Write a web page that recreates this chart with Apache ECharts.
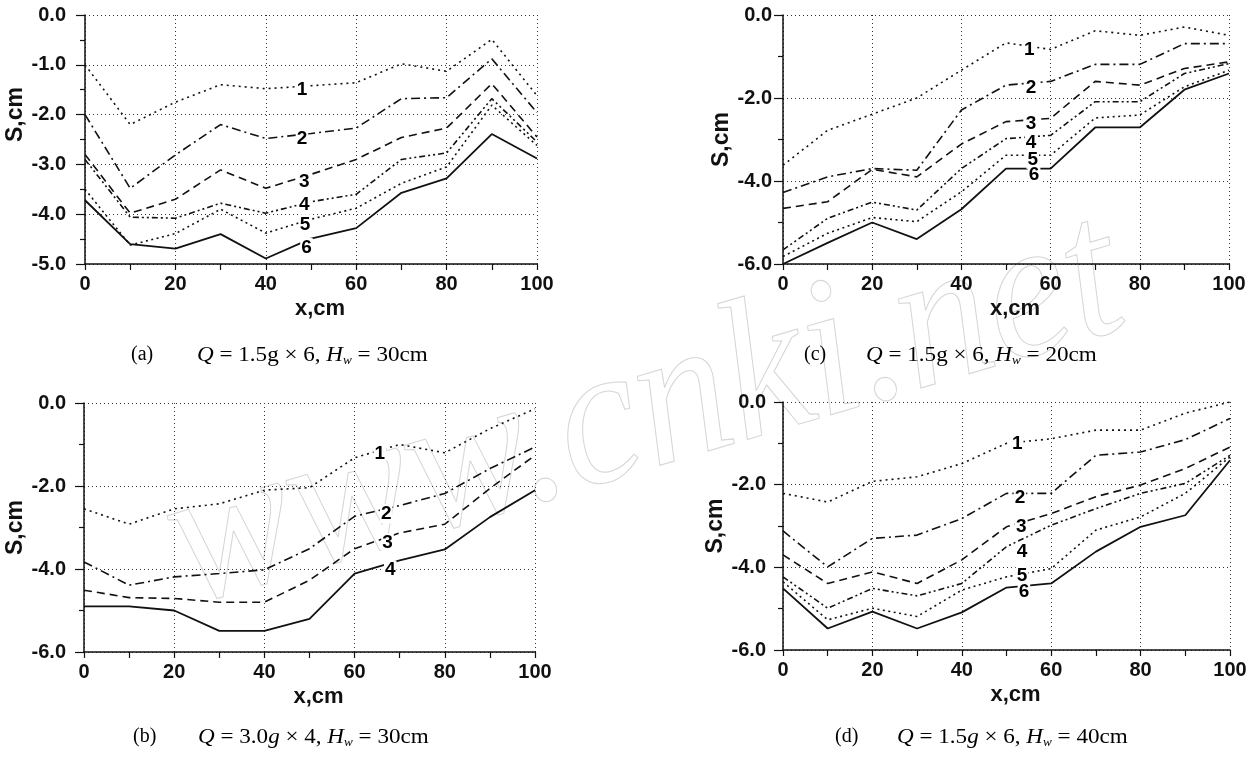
<!DOCTYPE html>
<html>
<head>
<meta charset="utf-8">
<script src="https://cdn.jsdelivr.net/npm/echarts@6/dist/echarts.min.js"></script>
<style>
  html, body { margin: 0; padding: 0; background: #fff; }
  #chart { width: 1258px; height: 760px; }
</style>
</head>
<body>
<div id="chart"></div>
<script>
// x positions along the flume, cm
const xs = [0, 10, 20, 30, 40, 50, 60, 70, 80, 90, 100];

// (a) Q = 1.5g x 6, Hw = 30cm
const a1 = [-1.0, -2.2, -1.75, -1.4, -1.48, -1.42, -1.36, -0.98, -1.13, -0.49, -1.62];
const a2 = [-2.0, -3.48, -2.81, -2.2, -2.48, -2.38, -2.27, -1.68, -1.66, -0.88, -1.96];
const a3 = [-2.8, -3.98, -3.7, -3.11, -3.48, -3.2, -2.9, -2.46, -2.27, -1.38, -2.45];
const a4 = [-2.9, -4.06, -4.08, -3.78, -3.98, -3.75, -3.6, -2.9, -2.77, -1.68, -2.55];
const a5 = [-3.5, -4.62, -4.39, -3.9, -4.38, -4.1, -3.88, -3.38, -3.05, -1.81, -2.62];
const a6 = [-3.72, -4.6, -4.69, -4.4, -4.89, -4.49, -4.28, -3.57, -3.28, -2.39, -2.88];
const labelsA = [[48, -1.5, '1'], [48, -2.48, '2'], [48.5, -3.35, '3'], [48.5, -3.82, '4'], [48.7, -4.22, '5'], [49, -4.67, '6']];

// (c) Q = 1.5g x 6, Hw = 20cm
const c1 = [-3.62, -2.78, -2.39, -2.0, -1.33, -0.67, -0.83, -0.38, -0.49, -0.29, -0.49];
const c2 = [-4.28, -3.9, -3.7, -3.74, -2.29, -1.69, -1.6, -1.19, -1.19, -0.69, -0.69];
const c3 = [-4.66, -4.5, -3.72, -3.9, -3.11, -2.57, -2.49, -1.6, -1.69, -1.29, -1.13];
const c4 = [-5.66, -4.9, -4.51, -4.7, -3.7, -2.98, -2.9, -2.09, -2.09, -1.41, -1.17];
const c5 = [-5.82, -5.26, -4.88, -4.98, -4.26, -3.38, -3.38, -2.48, -2.41, -1.73, -1.33];
const c6 = [-6.0, -5.49, -5.0, -5.4, -4.68, -3.7, -3.7, -2.71, -2.71, -1.8, -1.41];
const labelsC = [[55.2, -0.83, '1'], [55.6, -1.75, '2'], [55.6, -2.63, '3'], [55.6, -3.08, '4'], [56, -3.48, '5'], [56.3, -3.86, '6']];

// (b) Q = 3.0g x 4, Hw = 30cm
const b1 = [-2.55, -2.92, -2.55, -2.43, -2.1, -2.04, -1.32, -1.0, -1.2, -0.62, -0.14];
const b2 = [-3.83, -4.39, -4.19, -4.11, -4.02, -3.51, -2.73, -2.47, -2.18, -1.58, -1.06];
const b3 = [-4.51, -4.69, -4.71, -4.8, -4.8, -4.27, -3.51, -3.13, -2.92, -2.06, -1.26];
const b4 = [-4.9, -4.9, -5.0, -5.49, -5.49, -5.2, -4.11, -3.79, -3.53, -2.75, -2.1];
const labelsB = [[65.6, -1.22, '1'], [67, -2.67, '2'], [67.3, -3.37, '3'], [67.9, -4.03, '4']];

// (d) Q = 1.5g x 6, Hw = 40cm
const d1 = [-2.21, -2.42, -1.92, -1.81, -1.49, -1.0, -0.89, -0.68, -0.68, -0.27, 0.0];
const d2 = [-3.12, -3.99, -3.3, -3.22, -2.82, -2.21, -2.21, -1.29, -1.21, -0.91, -0.4];
const d3 = [-3.7, -4.39, -4.11, -4.39, -3.82, -3.02, -2.7, -2.29, -2.01, -1.61, -1.09];
const d4 = [-4.23, -4.99, -4.51, -4.69, -4.39, -3.5, -2.98, -2.58, -2.21, -1.97, -1.29];
const d5 = [-4.35, -5.27, -4.99, -5.19, -4.55, -4.23, -4.03, -3.1, -2.78, -2.21, -1.33];
const d6 = [-4.51, -5.48, -5.07, -5.48, -5.09, -4.49, -4.39, -3.62, -3.02, -2.74, -1.41];
const labelsD = [[52.4, -1.02, '1'], [53, -2.31, '2'], [53.3, -3.02, '3'], [53.5, -3.62, '4'], [53.5, -4.2, '5'], [53.9, -4.6, '6']];

// line style per curve number 1..6
const dashes = [[2, 4], [9, 4, 2, 4], [8, 5], [6, 3, 2, 3, 2, 3], [2, 3.5], 'solid'];
// panel (b) only has 4 curves: dotted, dash-dot, dashed, solid
const dashesB = [[2, 4], [9, 4, 2, 4], [8, 5], 'solid'];

const panels = [
  { grid: { left: 85, top: 15, width: 452, height: 249 }, min: -5, interval: 1, labelMargin: 19, nameGap: 56, namePad: [0, 0, 0, 50],
    curves: [a1, a2, a3, a4, a5, a6], dash: dashes, labels: labelsA },
  { grid: { left: 783, top: 15, width: 446, height: 249 }, min: -6, interval: 2, labelMargin: 11, nameGap: 46, namePad: 0,
    curves: [c1, c2, c3, c4, c5, c6], dash: dashes, labels: labelsC },
  { grid: { left: 84, top: 403, width: 451, height: 249 }, min: -6, interval: 2, labelMargin: 18, nameGap: 55, namePad: 0,
    curves: [b1, b2, b3, b4], dash: dashesB, labels: labelsB },
  { grid: { left: 783, top: 402, width: 447, height: 248 }, min: -6, interval: 2, labelMargin: 17, nameGap: 52, namePad: 0,
    curves: [d1, d2, d3, d4, d5, d6], dash: dashes, labels: labelsD }
];

const captions = [
  { tag: '(a)', body: '{i|Q} = 1.5g × 6, {i|H}{s|w} = 30cm', tx: 131, bx: 197, y: 355 },
  { tag: '(c)', body: '{i|Q} = 1.5g × 6, {i|H}{s|w} = 20cm', tx: 804, bx: 866, y: 355 },
  { tag: '(b)', body: '{i|Q} = 3.0{i|g} × 4, {i|H}{s|w} = 30cm', tx: 133, bx: 198, y: 737 },
  { tag: '(d)', body: '{i|Q} = 1.5{i|g} × 6, {i|H}{s|w} = 40cm', tx: 835, bx: 897, y: 737 }
];

const sans = '"Liberation Sans", Arial, sans-serif';
const serif = '"Liberation Serif", "Times New Roman", serif';
const ink = '#111';

let grids = [], xAxes = [], yAxes = [], series = [], graphics = [];

panels.forEach((p, i) => {
  grids.push(p.grid);
  xAxes.push({
    type: 'value', gridIndex: i, min: 0, max: 100, interval: 20,
    name: 'x,cm', nameLocation: 'middle', nameGap: 34,
    nameTextStyle: { fontFamily: sans, fontWeight: 'bold', fontSize: 22, color: ink, padding: [0, 0, 0, 18] },
    axisLine: { show: true, onZero: false, lineStyle: { color: ink, width: 1.5 } },
    axisTick: { show: true, length: 6, lineStyle: { color: ink, width: 1.2 } },
    minorTick: { show: true, splitNumber: 2, length: 6, lineStyle: { color: ink, width: 1.2 } },
    axisLabel: { margin: 10, fontFamily: sans, fontWeight: 'bold', fontSize: 20, color: ink },
    splitLine: { show: true, lineStyle: { type: [1, 3], color: '#333', width: 1 } }
  });
  yAxes.push({
    type: 'value', gridIndex: i, min: p.min, max: 0, interval: p.interval,
    name: 'S,cm', nameLocation: 'middle', nameGap: p.nameGap, nameRotate: 90,
    nameTextStyle: { fontFamily: sans, fontWeight: 'bold', fontSize: 23, color: ink, padding: p.namePad },
    axisLine: { show: true, onZero: false, lineStyle: { color: ink, width: 1.5 } },
    axisTick: { show: true, length: 9, lineStyle: { color: ink, width: 1.2 } },
    minorTick: { show: true, splitNumber: 2, length: 5, lineStyle: { color: ink, width: 1.2 } },
    axisLabel: { margin: p.labelMargin, formatter: v => v.toFixed(1), fontFamily: sans, fontWeight: 'bold', fontSize: 20, color: ink },
    splitLine: { show: true, lineStyle: { type: [1, 3], color: '#333', width: 1 } }
  });
  p.curves.forEach((ys, k) => {
    const solid = p.dash[k] === 'solid';
    series.push({
      type: 'line', xAxisIndex: i, yAxisIndex: i, symbol: 'none', silent: true,
      data: xs.map((x, j) => [x, ys[j]]),
      lineStyle: { color: ink, width: solid ? 1.8 : 1.6, type: p.dash[k] },
      z: 3
    });
  });
  // curve numbers
  series.push({
    type: 'scatter', xAxisIndex: i, yAxisIndex: i, silent: true,
    symbolSize: 0, itemStyle: { color: '#fff' },
    data: p.labels,
    label: {
      show: true, position: 'inside', formatter: q => q.value[2], opacity: 1,
      fontFamily: sans, fontWeight: 'bold', fontSize: 19, color: '#000',
      textBorderWidth: 0, backgroundColor: '#fff', padding: [0, 1]
    },
    z: 5
  });
});

captions.forEach(c => {
  graphics.push({
    type: 'text', x: c.tx, y: c.y, silent: true,
    style: { text: c.tag, font: '20px ' + serif, fill: '#000', verticalAlign: 'middle' }
  });
  graphics.push({
    type: 'text', x: c.bx, y: c.y, scaleX: 1.1, silent: true,
    style: {
      text: c.body, font: '21px ' + serif, fill: '#000', verticalAlign: 'middle',
      rich: {
        i: { fontStyle: 'italic', fontSize: 21, fontFamily: serif },
        s: { fontStyle: 'italic', fontSize: 12, fontFamily: serif, padding: [11, 0, 0, 0] }
      }
    }
  });
});

// faint site watermark across the figure
graphics.push({
  type: 'text', x: 645, y: 415, rotation: 0.288, scaleX: 1.0, scaleY: 1.08, silent: true, z: -10,
  style: {
    text: 'www.cnki.net', font: 'italic 185px ' + serif,
    fill: 'none', stroke: '#d6d6d6', lineWidth: 1,
    align: 'center', verticalAlign: 'middle'
  }
});

const myChart = echarts.init(document.getElementById('chart'));
myChart.setOption({
  backgroundColor: '#fff',
  animation: false,
  grid: grids,
  xAxis: xAxes,
  yAxis: yAxes,
  series: series,
  graphic: graphics
});
</script>
</body>
</html>
